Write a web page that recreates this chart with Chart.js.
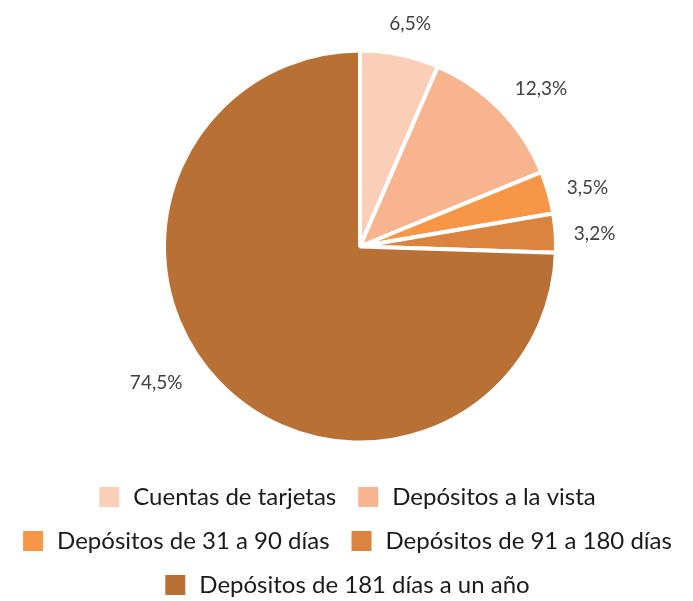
<!DOCTYPE html>
<html>
<head>
<meta charset="utf-8">
<script src="https://cdn.jsdelivr.net/npm/chart.js@4"></script>
<style>
  html, body { margin: 0; padding: 0; background: #ffffff; }
  #wrap { width: 693px; height: 601px; position: relative; }
</style>
</head>
<body>
<div id="wrap"><canvas id="c" width="693" height="601"></canvas></div>
<script>
const categories = [
  "Cuentas de tarjetas",
  "Depósitos a la vista",
  "Depósitos de 31 a 90 días",
  "Depósitos de 91 a 180 días",
  "Depósitos de 181 días a un año"
];
const shares = [6.5, 12.3, 3.5, 3.2, 74.5];
const percentLabels = ["6,5%", "12,3%", "3,5%", "3,2%", "74,5%"];
const sliceColors = ["#FBCEB7", "#F8B48F", "#F79646", "#DB843F", "#B97034"];

// label placement tweaks (degrees of extra rotation, extra radial distance px)
const labelNudge = [
  { da: 1.0, dr: 32 },
  { da: 3.4, dr: 44 },
  { da: 1.5, dr: 39 },
  { da: 0.8, dr: 39 },
  { da: 10.4, dr: 49 }
];

// shift the plot area right so the pie sits off-centre like the original,
// while the legend keeps the full canvas width
const shiftPie = {
  id: 'shiftPie',
  afterLayout(chart) {
    const ca = chart.chartArea;
    ca.left += 27;
    ca.width = ca.right - ca.left;
  }
};

const outsideLabels = {
  id: 'outsideLabels',
  afterDatasetsDraw(chart) {
    const ctx = chart.ctx;
    const meta = chart.getDatasetMeta(0);
    ctx.save();
    ctx.font = '19px Lato, "Liberation Sans", sans-serif';
    ctx.fillStyle = '#404040';
    ctx.textAlign = 'center';
    ctx.textBaseline = 'middle';
    meta.data.forEach((arc, i) => {
      const p = arc.getProps(['x', 'y', 'startAngle', 'endAngle', 'outerRadius'], true);
      const n = labelNudge[i];
      const mid = (p.startAngle + p.endAngle) / 2 + n.da * Math.PI / 180;
      const r = p.outerRadius + n.dr;
      ctx.fillText(percentLabels[i], p.x + Math.cos(mid) * r, p.y + Math.sin(mid) * r);
    });
    ctx.restore();
  }
};

new Chart(document.getElementById('c'), {
  type: 'pie',
  data: {
    labels: categories,
    datasets: [{
      data: shares,
      backgroundColor: sliceColors,
      borderColor: '#ffffff',
      borderWidth: 4,
      radius: 196,
      hoverOffset: 0
    }]
  },
  options: {
    responsive: false,
    animation: false,
    events: [],
    layout: { padding: { top: 28, left: 0, right: 0, bottom: -6 } },
    plugins: {
      tooltip: { enabled: false },
      legend: {
        position: 'bottom',
        labels: {
          boxWidth: 24,
          boxHeight: 24,
          padding: 20,
          color: '#1a1a1a',
          font: { family: 'Lato, sans-serif', size: 24 }
        }
      }
    }
  },
  plugins: [shiftPie, outsideLabels]
});
</script>
</body>
</html>
